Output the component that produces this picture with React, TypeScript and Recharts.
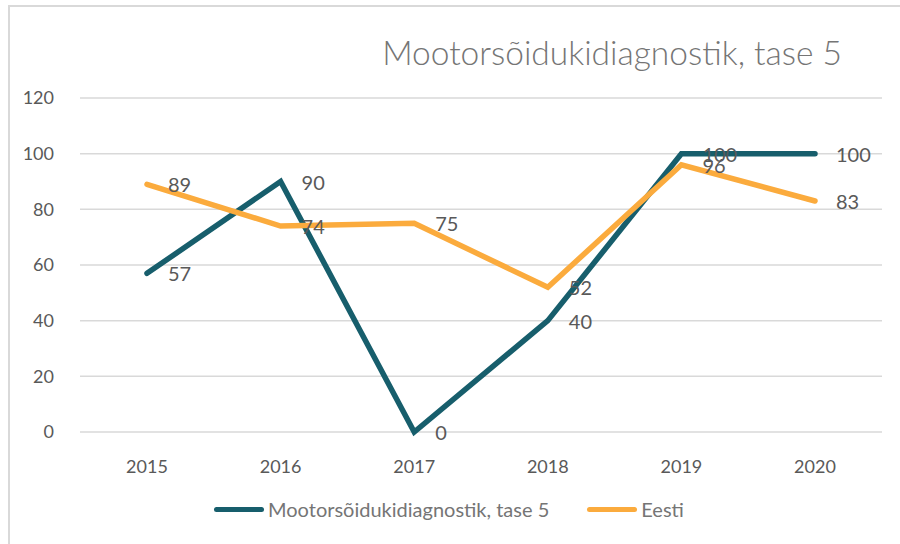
import React from 'react';
import { LineChart, Line, XAxis, YAxis, CartesianGrid, LabelList } from 'recharts';

const years = ['2015', '2016', '2017', '2018', '2019', '2020'];
const mootor = [57, 90, 0, 40, 100, 100];
const eesti = [89, 74, 75, 52, 96, 83];
const yTicks = [0, 20, 40, 60, 80, 100, 120];

const title = 'Mootorsõidukidiagnostik, tase 5';
const series = [
    { key: 'mootor', name: 'Mootorsõidukidiagnostik, tase 5', color: '#175E6C' },
    { key: 'eesti', name: 'Eesti', color: '#FBAB3D' },
];

const data = years.map((y, i) => ({ year: y, mootor: mootor[i], eesti: eesti[i] }));

const FONT = 'Lato, "Open Sans", sans-serif';
const TEXT = '#595959';

const PointLabel = (props: any) => {
    const { x, y, value } = props;
    return (
        <text x={x + 21} y={y + 8} fill={TEXT} fontSize={20} fontFamily={FONT} textAnchor="start">
            {value}
        </text>
    );
};

const App: React.FC = () => {
    return (
        <div style={{ position: 'absolute', left: 0, top: 0, width: 900, height: 544, background: '#fff', fontFamily: FONT }}>
            <div style={{ position: 'absolute', left: 8, top: 5, width: 900, height: 544, borderLeft: '2px solid #d9d9d9', borderTop: '2px solid #d9d9d9' }} />
            <div style={{ position: 'absolute', right: 58, top: 32, fontSize: 33.5, fontWeight: 300, color: '#757575', whiteSpace: 'nowrap' }}>
                {title}
            </div>
            <div style={{ position: 'absolute', left: 0, top: 0 }}>
                <LineChart
                    width={900}
                    height={544}
                    data={data}
                    margin={{ top: 98, right: 18, left: 20, bottom: 72 }}
                >
                    <CartesianGrid vertical={false} stroke="#d9d9d9" strokeWidth={1.5} />
                    <XAxis
                        dataKey="year"
                        axisLine={false}
                        tickLine={false}
                        height={40}
                        tickMargin={22}
                        padding={{ left: 67, right: 67 }}
                        tick={{ fill: TEXT, fontSize: 18, fontFamily: FONT }}
                    />
                    <YAxis
                        domain={[0, 120]}
                        ticks={yTicks}
                        axisLine={false}
                        tickLine={false}
                        width={60}
                        tickMargin={20}
                        tick={{ fill: TEXT, fontSize: 18, fontFamily: FONT }}
                    />
                    {series.map((s) => (
                        <Line
                            key={s.key}
                            type="linear"
                            dataKey={s.key}
                            name={s.name}
                            stroke={s.color}
                            strokeWidth={5.5}
                            strokeLinecap="round"
                            dot={false}
                            activeDot={false}
                            isAnimationActive={false}
                        >
                            <LabelList dataKey={s.key} content={PointLabel} />
                        </Line>
                    ))}
                </LineChart>
            </div>
            <div style={{ position: 'absolute', left: 214, top: 497, display: 'flex', alignItems: 'center', fontSize: 20, color: '#757575' }}>
                {series.map((s, i) => (
                    <div key={s.key} style={{ display: 'flex', alignItems: 'center', marginLeft: i === 0 ? 0 : 38 }}>
                        <span style={{ display: 'inline-block', width: 50, height: 5, borderRadius: 3, background: s.color, marginRight: 4 }} />
                        <span>{s.name}</span>
                    </div>
                ))}
            </div>
        </div>
    );
};

export default App;
